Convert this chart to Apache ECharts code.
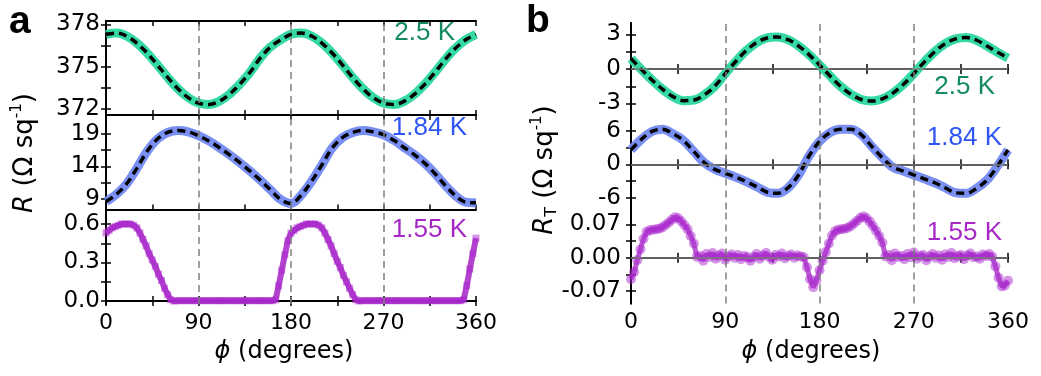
<!DOCTYPE html>
<html><head><meta charset="utf-8">
<script src="https://cdn.jsdelivr.net/npm/echarts@6/dist/echarts.min.js"></script>
<style>html,body{margin:0;padding:0;background:#fff}#c{width:1041px;height:376px}</style>
</head><body><div id="c"></div>
<script>
// ---------------- data ----------------
const phi10 = [0,10,20,30,40,50,60,70,80,90,100,110,120,130,140,150,160,170,180,190,200,210,220,230,240,250,260,270,280,290,300,310,320,330,340,350,360];
const phi3 = [0,3,6,9,12,15,18,21,24,27,30,33,36,39,42,45,48,51,54,57,60,63,66,69,72,75,78,81,84,87,90,93,96,99,102,105,108,111,114,117,120,123,126,129,132,135,138,141,144,147,150,153,156,159,162,165,168,171,174,177,180,183,186,189,192,195,198,201,204,207,210,213,216,219,222,225,228,231,234,237,240,243,246,249,252,255,258,261,264,267,270,273,276,279,282,285,288,291,294,297,300,303,306,309,312,315,318,321,324,327,330,333,336,339,342,345,348,351,354,357,360];

// panel a: R (Ohm/sq)
const a25 = [377.30,377.39,377.18,376.68,375.97,375.12,374.23,373.42,372.79,372.40,372.30,372.52,373.02,373.73,374.58,375.60,376.40,376.91,377.30,377.39,377.18,376.68,375.97,375.12,374.23,373.42,372.79,372.40,372.30,372.52,373.02,373.73,374.58,375.50,376.30,376.91,377.30];
const a184 = [8.6,9.7,11.3,13.7,16.3,18.2,19.2,19.5,19.3,18.7,17.9,16.9,15.8,14.6,13.3,11.9,10.4,8.9,8.3,9.6,11.7,14.2,16.8,18.4,19.2,19.5,19.3,18.85,18.0,16.9,15.8,14.5,12.9,11.1,9.5,8.5,8.4];
const a155 = [0.53,0.55,0.57,0.58,0.59,0.60,0.60,0.60,0.60,0.59,0.57,0.53,0.48,0.43,0.37,0.32,0.27,0.21,0.16,0.10,0.05,0.01,0.00,
  0.003,0.003,0.003,0.003,0.003,0.003,0.003,0.003,0.003,0.003,0.003,0.003,0.003,0.003,0.003,0.003,0.003,0.003,0.003,0.003,0.003,0.003,0.003,0.003,0.003,0.003,0.003,0.003,0.003,0.003,0.003,0.003,
  0.01,0.12,0.24,0.36,0.47,0.53,0.55,0.57,0.58,0.59,0.60,0.60,0.60,0.60,0.59,0.57,0.53,0.48,0.43,0.37,0.31,0.26,0.20,0.15,0.10,0.05,0.01,0.00,
  0.003,0.003,0.003,0.003,0.003,0.003,0.003,0.003,0.003,0.003,0.003,0.003,0.003,0.003,0.003,0.003,0.003,0.003,0.003,0.003,0.003,0.003,0.003,0.003,0.003,0.003,0.003,0.003,0.003,0.003,0.003,0.003,0.003,
  0.01,0.12,0.25,0.37,0.49];

// panel b: R_T (Ohm/sq)
const b25 = [0.9,-0.05,-0.95,-1.75,-2.4,-2.75,-2.7,-2.25,-1.5,-0.4,0.65,1.6,2.3,2.7,2.78,2.55,2.0,1.25,0.35,-0.6,-1.5,-2.2,-2.65,-2.78,-2.6,-2.1,-1.35,-0.4,0.6,1.5,2.2,2.62,2.74,2.5,2.0,1.45,0.95];
const b184 = [2.6,4.5,5.9,6.3,5.5,4.3,2.3,0.3,-0.9,-1.6,-2.3,-3.1,-4.0,-5.0,-5.2,-4.2,-1.9,1.5,4.1,5.7,6.3,6.3,5.3,3.2,1.2,-0.5,-1.2,-1.9,-2.6,-3.3,-4.2,-5.1,-5.2,-4.3,-2.8,-0.3,2.6];
const b155 = [-0.045,-0.03,-0.005,0.018,0.040,0.055,0.058,0.059,0.060,0.061,0.064,0.069,0.074,0.080,0.085,0.083,0.077,0.069,0.060,0.046,0.030,0.002,
  0.004,-0.006,0.008,0.002,0.010,-0.002,0.005,0.009,-0.004,0.003,0.007,0.000,0.006,-0.003,0.004,0.001,-0.006,0.002,0.008,-0.002,0.005,0.010,0.001,-0.004,0.006,0.003,0.009,-0.001,0.004,0.007,0.000,0.005,0.003,
  0.001,-0.020,-0.045,-0.062,-0.048,-0.026,-0.006,0.012,0.030,0.047,0.056,0.059,0.060,0.061,0.063,0.067,0.072,0.078,0.084,0.087,0.083,0.076,0.067,0.057,0.046,0.032,0.003,
  0.006,-0.005,0.009,0.002,0.004,-0.003,0.008,0.001,0.011,-0.002,0.004,0.006,-0.005,0.003,0.008,0.000,0.005,-0.004,0.007,0.002,0.010,-0.001,0.004,0.006,-0.003,0.005,0.009,0.001,0.003,-0.002,0.007,0.004,0.008,
  0.002,-0.018,-0.042,-0.060,-0.058,-0.048];

// tick values / labels
const xTicks = [0,45,90,135,180,225,270,315,360];
const xLabels = [0,90,180,270,360];
const guideLines = [90,180,270];
const a1Ticks = [372,373.5,375,376.5,378], a1Labels = [372,375,378];
const a2Ticks = [9,11.5,14,16.5,19], a2Labels = [9,14,19];
const a3Ticks = [0,0.15,0.3,0.45,0.6], a3Labels = [0,0.3,0.6];
const b1Ticks = [-3,-1.5,0,1.5,3], b1Labels = [-3,0,3];
const b2Ticks = [-6,-3,0,3,6], b2Labels = [-6,0,6];
const b3Ticks = [-0.07,-0.035,0,0.035,0.07], b3Labels = [-0.07,0,0.07];
const tempLabels = ['2.5 K','1.84 K','1.55 K'];

// ---------------- chart ----------------
const LAB = 'DejaVu Sans, Liberation Sans, Arial, sans-serif';
const ARIAL = 'Liberation Sans, Arial, sans-serif';
const GREEN = '#2ad7a0', BLUE = '#7389f1';
const GREEN_T = '#138a62', BLUE_T = '#2f55f4', PURPLE_T = '#a626c6';

const panels = [
  {grid:{left:106, top:21, width:370, height:94}, min:371.55, max:378.25, ticks:a1Ticks, labels:a1Labels, dec:0, bottom:false},
  {grid:{left:106, top:115, width:370, height:94.5}, min:7.38, max:21.88, ticks:a2Ticks, labels:a2Labels, dec:0, bottom:false},
  {grid:{left:106, top:209.5, width:370, height:94.5}, min:-0.023, max:0.713, ticks:a3Ticks, labels:a3Labels, dec:1, bottom:true},
  {grid:{left:631, top:23, width:377, height:92}, min:-4, max:4, ticks:b1Ticks, labels:b1Labels, dec:0, bottom:false},
  {grid:{left:631, top:115, width:377, height:94.5}, min:-8.1, max:8.85, ticks:b2Ticks, labels:b2Labels, dec:0, bottom:false},
  {grid:{left:631, top:209.5, width:377, height:94}, min:-0.096, max:0.1015, ticks:b3Ticks, labels:b3Labels, dec:2, bottom:true}
];

const axisLine = {show:true, lineStyle:{color:'#000', width:2}};
const tickStyle = {color:'#000', width:1.5};
const grid = [], xAxis = [], yAxis = [], series = [];
panels.forEach((p, g) => {
  grid.push(Object.assign({containLabel:false}, p.grid));
  ['bottom','top'].forEach(pos => {
    xAxis.push({gridIndex:g, type:'value', min:0, max:360, position:pos,
      axisLine, splitLine:{show:false},
      axisTick:{show:true, inside:true, length:5, lineStyle:tickStyle, customValues:xTicks},
      axisLabel:{show: pos==='bottom' && p.bottom, customValues:xLabels, fontSize:22, color:'#000', fontFamily:LAB, margin:8}
    });
  });
  ['left','right'].forEach(pos => {
    yAxis.push({gridIndex:g, type:'value', min:p.min, max:p.max, position:pos,
      axisLine, splitLine:{show:false},
      axisTick:{show:true, inside:true, length:5, lineStyle:tickStyle, customValues:p.ticks},
      axisLabel:{show: pos==='left', customValues:p.labels, fontSize:23, color:'#000', fontFamily:LAB, margin:(g<3?6:10),
        formatter: v => Number(v).toFixed(p.dec)}
    });
  });
  const mlData = guideLines.map(v => ({xAxis:v, lineStyle:{color:'#808080', type:[7,5], width:1.5}}));
  if (g >= 3) mlData.push({yAxis:0, lineStyle:{color:'#808080', type:'solid', width:1.5}});
  series.push({type:'line', xAxisIndex:2*g, yAxisIndex:2*g, data:[], z:1, silent:true,
    markLine:{silent:true, symbol:['none','none'], label:{show:false}, animation:false, data:mlData}});
});

const pairs = (xs, ys) => xs.map((x,i) => [x, ys[i]]);
function addCurve(g, xs, ys, color) {
  series.push({type:'line', xAxisIndex:2*g, yAxisIndex:2*g, data:pairs(xs,ys), smooth:0.35, showSymbol:false,
    lineStyle:{color, width:9, opacity:0.95}, z:3, animation:false});
  series.push({type:'line', xAxisIndex:2*g, yAxisIndex:2*g, data:pairs(xs,ys), smooth:0.35, showSymbol:false,
    lineStyle:{color:'#000', width:3.5, type:[8,5]}, z:4, animation:false});
}
addCurve(0, phi10, a25, GREEN);
addCurve(1, phi10, a184, BLUE);
// 1.55 K, panel a: dense square markers
series.push({type:'line', xAxisIndex:4, yAxisIndex:4, data:pairs(phi3,a155), showSymbol:true, symbol:'rect', symbolSize:7,
  lineStyle:{color:'#a422c6', width:6, opacity:0.85}, itemStyle:{color:'rgba(170,40,205,0.5)'}, z:3, animation:false});
// 1.55 K, panel b: dense circle markers
series.push({type:'line', xAxisIndex:10, yAxisIndex:10, data:pairs(phi3,b155), showSymbol:true, symbol:'circle', symbolSize:10,
  lineStyle:{color:'#a422c6', width:5, opacity:0.75}, itemStyle:{color:'rgba(170,40,205,0.5)'}, z:3, animation:false});
addCurve(3, phi10, b25, GREEN);
addCurve(4, phi10, b184, BLUE);

const txt = (x, y, text, color) => ({type:'text', x, y, z:10,
  style:{text, fill:color, fontSize:26, fontFamily:ARIAL, textAlign:'right', textVerticalAlign:'middle'}});

const graphic = [
  {type:'text', x:9, y:22, style:{text:'a', fontSize:39, fontWeight:'bold', fontFamily:ARIAL, fill:'#000', textVerticalAlign:'middle'}},
  {type:'text', x:526, y:21, style:{text:'b', fontSize:39, fontWeight:'bold', fontFamily:ARIAL, fill:'#000', textVerticalAlign:'middle'}},
  txt(455, 33, tempLabels[0], GREEN_T),
  txt(467, 128, tempLabels[1], BLUE_T),
  txt(467, 230, tempLabels[2], PURPLE_T),
  txt(995, 87, tempLabels[0], GREEN_T),
  txt(1002, 138, tempLabels[1], BLUE_T),
  txt(1002, 233, tempLabels[2], PURPLE_T),
  {type:'text', x:284, y:352, style:{text:'{i|ϕ} (degrees)', fontSize:24, fontFamily:LAB, fill:'#000', textAlign:'center', textVerticalAlign:'middle',
    rich:{i:{fontStyle:'italic', fontSize:24, fontFamily:LAB}}}},
  {type:'text', x:811, y:352, style:{text:'{i|ϕ} (degrees)', fontSize:24, fontFamily:LAB, fill:'#000', textAlign:'center', textVerticalAlign:'middle',
    rich:{i:{fontStyle:'italic', fontSize:24, fontFamily:LAB}}}},
  {type:'text', x:25, y:153, rotation:Math.PI/2, style:{text:'{i|R} (Ω sq{sup|-1})', fontSize:26, fontFamily:LAB, fill:'#000', textAlign:'center', textVerticalAlign:'middle',
    rich:{i:{fontStyle:'italic', fontSize:26, fontFamily:LAB, lineHeight:30}, sup:{fontSize:15, fontFamily:LAB, verticalAlign:'top', lineHeight:15}}}},
  {type:'text', x:545, y:170, rotation:Math.PI/2, style:{text:'{i|R}{sub|T} (Ω sq{sup|-1})', fontSize:26, fontFamily:LAB, fill:'#000', textAlign:'center', textVerticalAlign:'middle',
    rich:{i:{fontStyle:'italic', fontSize:26, fontFamily:LAB, lineHeight:30}, sub:{fontSize:16, fontFamily:LAB, verticalAlign:'bottom', lineHeight:16}, sup:{fontSize:15, fontFamily:LAB, verticalAlign:'top', lineHeight:15}}}}
];

const chart = echarts.init(document.getElementById('c'), null, {renderer:'canvas'});
chart.setOption({animation:false, backgroundColor:'#fff', grid, xAxis, yAxis, series, graphic});
</script></body></html>
